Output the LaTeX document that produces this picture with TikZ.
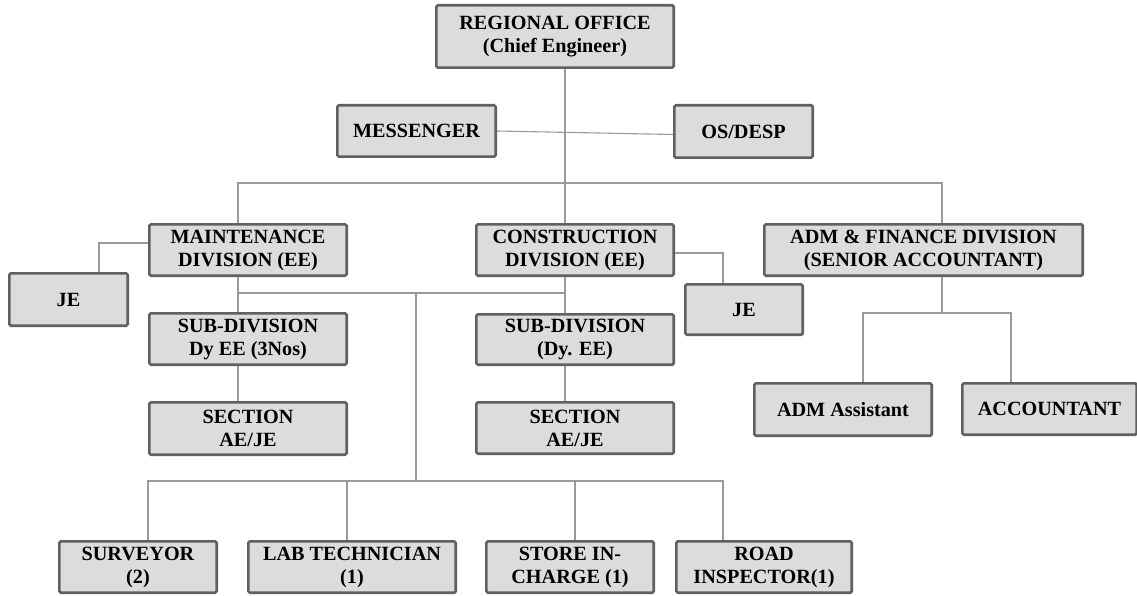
\documentclass[tikz,border=0pt]{standalone}
\usepackage{fontspec}
\setmainfont{Liberation Serif}
\definecolor{boxfill}{HTML}{DCDCDC}
\definecolor{boxline}{HTML}{606060}
\definecolor{linkline}{HTML}{9A9A9A}
\tikzset{
  unit/.style={draw=boxline, fill=boxfill, line width=2.6pt, rounded corners=1.5pt,
    inner sep=0pt, align=center, text=black,
    font=\bfseries\fontsize{20.2}{23}\selectfont},
  link/.style={draw=linkline, line width=1.1pt},
}
% place a box by its outer pixel extent: left, right, top, bottom
\newcommand{\orgbox}[6]{%
  \node[unit, minimum width={#3-#2-2.6}, minimum height={#5-#4-2.6}]
    (#1) at ({(#2+#3)/2},{(#4+#5)/2}) {#6};}
\begin{document}
\begin{tikzpicture}[x=1pt, y=-1pt]
\useasboundingbox (0,0) rectangle (1137,596);

% boxes
\orgbox{reg}{435}{675}{4}{69}{REGIONAL OFFICE\\(Chief Engineer)}
\orgbox{mess}{336}{497}{104}{158}{MESSENGER}
\orgbox{os}{673}{814}{104}{159}{OS/DESP}
\orgbox{maint}{148}{348}{223}{277}{MAINTENANCE\\DIVISION (EE)}
\orgbox{cons}{475}{675}{223}{277}{CONSTRUCTION\\DIVISION (EE)}
\orgbox{adm}{763}{1084}{223}{277}{ADM \& FINANCE DIVISION\\(SENIOR ACCOUNTANT)}
\orgbox{jeA}{8}{129}{272}{327}{JE}
\orgbox{jeB}{684}{804}{283}{336}{JE}
\orgbox{subA}{148}{348}{312}{366}{SUB-DIVISION\\Dy EE (3Nos)}
\orgbox{subB}{475}{675}{313}{366}{SUB-DIVISION\\(Dy. EE)}
\orgbox{secA}{148}{348}{401}{456}{SECTION\\AE/JE}
\orgbox{secB}{475}{675}{401}{455}{SECTION\\AE/JE}
\orgbox{asst}{753}{933}{382}{437}{ADM Assistant}
\orgbox{acct}{961}{1138}{382}{436}{ACCOUNTANT}
\orgbox{surv}{58}{218}{540}{594}{SURVEYOR\\(2)}
\orgbox{lab}{247}{457}{540}{594}{LAB TECHNICIAN\\(1)}
\orgbox{store}{485}{655}{540}{594}{STORE IN-\\CHARGE (1)}
\orgbox{road}{675}{853}{540}{594}{ROAD\\INSPECTOR(1)}

% junction points
\coordinate (trunk) at (565,183);
\coordinate (barL) at (238,183);
\coordinate (barR) at (942,183);
\coordinate (jeAtap) at (99,243);
\coordinate (jeBtap) at (723,253);
\coordinate (mjoin) at (238,293);
\coordinate (cjoin) at (565,293);
\coordinate (fdrop) at (416,293);
\coordinate (fbar) at (416,481);
\coordinate (survtap) at (148,481);
\coordinate (labtap) at (347,481);
\coordinate (storetap) at (575,481);
\coordinate (roadtap) at (723,481);
\coordinate (admjoin) at (942,313);
\coordinate (asstjoin) at (863,313);
\coordinate (acctjoin) at (1011,313);

% connectors
\draw[link] (reg.south -| trunk) -- (cons.north -| trunk);
\draw[link] (mess.east) -- ([yshift=-3pt]os.west);
\draw[link] (maint.north -| barL) -- (barL) -- (barR) -- (adm.north -| barR);
\draw[link] (maint.west |- jeAtap) -- (jeAtap) -- (jeA.north -| jeAtap);
\draw[link] (cons.east |- jeBtap) -- (jeBtap) -- (jeB.north -| jeBtap);
\draw[link] (maint.south -| mjoin) -- (subA.north -| mjoin);
\draw[link] (subA.south -| mjoin) -- (secA.north -| mjoin);
\draw[link] (mjoin) -- (cjoin);
\draw[link] (cons.south -| cjoin) -- (subB.north -| cjoin);
\draw[link] (subB.south -| cjoin) -- (secB.north -| cjoin);
\draw[link] (fdrop) -- (fbar);
\draw[link] (surv.north -| survtap) -- (survtap) -- (roadtap) -- (road.north -| roadtap);
\draw[link] (labtap) -- (lab.north -| labtap);
\draw[link] (storetap) -- (store.north -| storetap);
\draw[link] (adm.south -| admjoin) -- (admjoin);
\draw[link] (asst.north -| asstjoin) -- (asstjoin) -- (acctjoin) -- (acct.north -| acctjoin);
\end{tikzpicture}
\end{document}
